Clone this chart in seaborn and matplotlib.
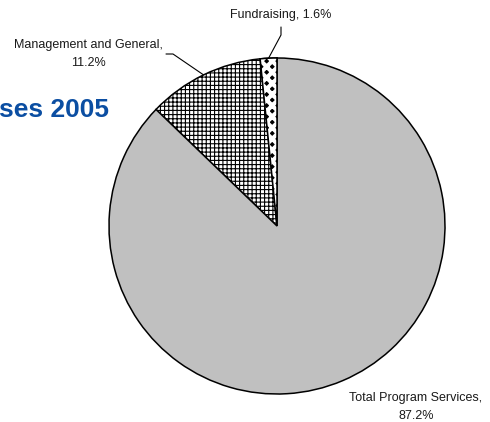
import numpy as np
import matplotlib
matplotlib.use('Agg')
import matplotlib.pyplot as plt
import seaborn as sns
from matplotlib.patches import Wedge

# Data
categories = ['Fundraising', 'Management and General', 'Total Program Services']
shares = [1.6, 11.2, 87.2]
label_texts = ['Fundraising, 1.6%', 'Management and General,\n11.2%', 'Total Program Services,\n87.2%']
title_text = 'Functional Expenses 2005'

sns.set_theme(style='white')
plt.rcParams['font.family'] = ['Liberation Sans', 'DejaVu Sans']
plt.rcParams['hatch.linewidth'] = 0.8

W, H = 490, 422
fig = plt.figure(figsize=(4.9, 4.22), dpi=100)
ax = fig.add_axes([0, 0, 1, 1])

cx, cy, r = 277, H - 226, 168

wedges, _ = ax.pie(shares, startangle=90, counterclock=True, radius=r, center=(cx, cy),
                   colors=['black', 'white', '#c0c0c0'],
                   wedgeprops=dict(edgecolor='black', linewidth=1.1), frame=True)
ax.set_xlim(0, W)
ax.set_ylim(0, H)
ax.set_aspect('equal')
ax.axis('off')

# fine grid for management
wedges[1].set_hatch('++++')

# diamond pattern for fundraising: thick white lines over black face
fw = wedges[0]
ov = Wedge((cx, cy), r, fw.theta1, fw.theta2, facecolor='none', edgecolor='white',
           hatch='xxx', linewidth=0, zorder=fw.get_zorder() + 0.1)
if hasattr(ov, 'set_hatch_linewidth'):
    ov.set_hatch_linewidth(3.0)
ax.add_patch(ov)
ax.add_patch(Wedge((cx, cy), r, fw.theta1, fw.theta2, facecolor='none', edgecolor='black',
                   linewidth=1.1, zorder=fw.get_zorder() + 0.2))


def edge_point(w):
    a = np.deg2rad((w.theta1 + w.theta2) / 2)
    return cx + r * np.cos(a), cy + r * np.sin(a)


fs = 9
txt_color = '#1a1a1a'
# Fundraising label
ax.text(281, H - 15, label_texts[0], ha='center', va='center', fontsize=fs, color=txt_color)
ex, ey = edge_point(wedges[0])
ax.plot([281, 281, ex], [H - 27, H - 35, ey], color='black', lw=0.8)

# Management label
ax.text(88, H - 54, label_texts[1], ha='center', va='center', fontsize=fs,
        multialignment='center', linespacing=1.6, color=txt_color)
ex, ey = edge_point(wedges[1])
ax.plot([166, 173, ex], [H - 54, H - 54, ey], color='black', lw=0.8)

# Program services label
ax.text(416, H - 407, label_texts[2], ha='center', va='center', fontsize=fs,
        multialignment='center', linespacing=1.6, color=txt_color)

# Title (partly off the left edge)
ax.text(109, H - 117, title_text, ha='right', va='baseline', fontsize=19,
        fontweight='bold', color='#0b4ea2')

fig.savefig('out.png', dpi=100)
